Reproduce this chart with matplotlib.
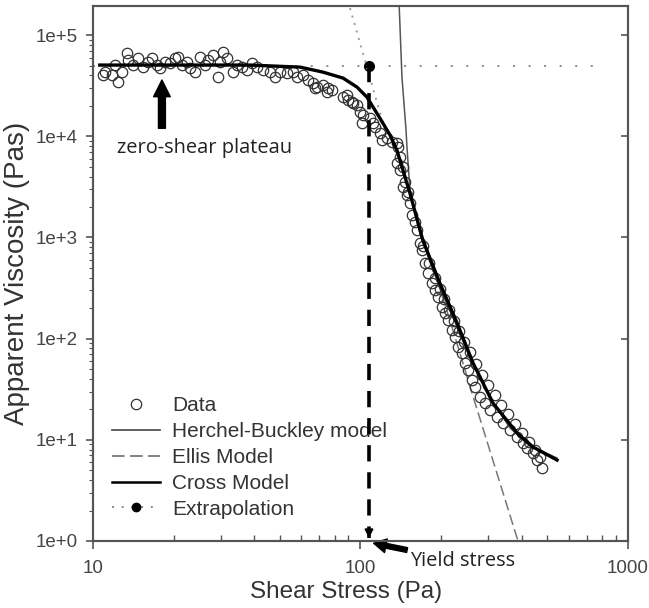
import matplotlib
matplotlib.use("Agg")
import matplotlib.pyplot as plt
from matplotlib.lines import Line2D

# measured data (shear stress in Pa, apparent viscosity in Pa.s)
data_stress = [
    10.9, 11.1, 11.8, 12.1, 12.4, 12.8, 13.4, 13.5, 14.1, 14.7, 15.4, 16.1, 16.6,
    17.3, 17.8, 18.6, 19.4, 20.3, 20.8, 21.5, 22.5, 23.0, 24.1, 25.1, 26.2, 26.9,
    28.1, 29.3, 29.8, 30.6, 31.7, 33.4, 34.5, 36.1, 37.6, 39.3, 41.0, 43.2, 45.9,
    47.9, 50.0, 53.1, 55.9, 57.9, 61.0, 63.6, 66.4, 68.8, 72.4, 75.6,
    67.6, 74.9, 78.2, 86.0, 89.0, 89.8, 92.9, 93.8, 97.0, 99.6, 102.2, 101.3,
    108.5, 111.4, 113.3, 118.3, 120.3, 125.6, 131.2, 136.9, 138.1, 140.5, 136.9,
    144.2, 140.5, 146.7, 144.2, 149.2, 150.5, 153.1, 155.8, 159.8, 162.6, 166.9,
    169.8, 174.2, 178.8, 185.0, 189.9, 194.9, 201.7, 207.0, 212.4, 219.8, 225.6,
    231.5, 239.6, 245.9, 252.3, 261.1, 267.9, 279.7, 292.1, 304.9, 323.8, 341.0,
    362.2, 384.6, 405.1, 419.3, 441.6, 456.9, 477.0,
    172, 180, 190, 198, 206, 215, 224, 234, 244, 256, 270, 284, 300, 318, 336,
    356, 378, 400, 425, 450, 470,
]
data_visc = [
    4.03e4, 4.31e4, 4.03e4, 5.06e4, 3.43e4, 4.31e4, 6.64e4, 5.66e4, 5.06e4, 5.93e4,
    4.83e4, 5.41e4, 5.93e4, 5.06e4, 4.72e4, 5.41e4, 5.29e4, 5.93e4, 6.06e4, 5.06e4,
    5.41e4, 4.72e4, 4.31e4, 6.06e4, 5.06e4, 5.66e4, 6.34e4, 3.85e4, 5.41e4, 6.79e4,
    5.93e4, 4.31e4, 5.06e4, 4.83e4, 4.51e4, 5.29e4, 4.83e4, 4.51e4, 4.31e4, 3.85e4,
    4.31e4, 4.21e4, 4.31e4, 3.85e4, 4.03e4, 3.59e4, 3.36e4, 3.06e4, 3.21e4, 2.99e4,
    2.99e4, 2.73e4, 2.86e4, 2.44e4, 2.55e4, 2.28e4, 2.18e4, 2.13e4, 2.03e4, 1.73e4,
    1.62e4, 1.35e4, 1.51e4, 1.35e4, 1.23e4, 1.08e4, 9.17e3, 9.60e3, 8.76e3, 8.56e3,
    7.82e3, 6.23e3, 5.43e3, 4.96e3, 4.63e3, 3.53e3, 3.15e3, 2.62e3, 2.81e3, 2.19e3,
    1.66e3, 1.42e3, 1.18e3, 881, 750, 558, 444, 354, 302, 258, 205, 179, 153, 122,
    104, 82.6, 72.1, 57.4, 49.0, 39.0, 33.3, 26.5, 23.1, 19.7, 16.8, 14.7, 12.5,
    10.7, 9.29, 8.30, 7.41, 6.31, 5.26,
    830, 560, 400, 310, 245, 190, 150, 118, 93, 73, 56, 44, 35, 28, 22,
    18, 14.5, 11.8, 9.6, 8.0, 6.8,
]

# Cross model
cross_stress = [10.6, 38.6, 59.4, 72.4, 86.1, 97.1, 105.7, 118.2, 128.9, 136.8,
                153, 171, 198, 229.6, 263.6, 312.8, 384.6, 441.6, 543]
cross_visc = [5.06e4, 5.06e4, 4.83e4, 4.31e4, 3.76e4, 3.06e4, 2.44e4, 1.51e4,
              1.03e4, 7.3e3, 2.75e3, 942, 354, 143, 57.4, 23.1, 11.7, 8.49, 6.31]

# Herschel-Bulkley model
hb_stress = [139.3, 142.9, 148.0, 149.2, 153.1, 158.5, 166.9, 181.9, 198.2,
             225.6, 256.6, 304.9, 362.2, 430, 543]
hb_visc = [2.2e5, 3.85e4, 1.15e4, 7.82e3, 2.94e3, 1.87e3, 1.10e3, 571, 316,
           146, 64.3, 25.9, 13.1, 8.69, 6.61]

# Ellis model
ellis_stress = [10.6, 38.6, 59.4, 72.4, 86.1, 97.1, 105.7, 118.2, 128.9, 136.8,
                153, 171, 198, 225.6, 261.1, 388]
ellis_visc = [5.06e4, 5.06e4, 4.83e4, 4.31e4, 3.76e4, 3.06e4, 2.44e4, 1.51e4,
              1.03e4, 7.3e3, 2.75e3, 942, 316, 104, 29.0, 1.0]

# extrapolation (plateau and power-law branch)
plateau_stress = [10, 107.6, 740]
plateau_visc = [4.94e4, 4.94e4, 4.94e4]
branch_stress = [91.4, 123.5]
branch_visc = [1.85e5, 1.15e4]
yield_stress = 107.6
yield_visc = 4.94e4

xticks = [10, 100, 1000]
xtick_labels = ["10", "100", "1000"]
yticks = [1, 10, 100, 1e3, 1e4, 1e5]
ytick_labels = ["1e+0", "1e+1", "1e+2", "1e+3", "1e+4", "1e+5"]

plt.rcParams["font.family"] = ["Liberation Sans", "DejaVu Sans"]

fig = plt.figure(figsize=(6.49, 6.08), dpi=100)
ax = fig.add_axes([0.1433, 0.1102, 0.8243, 0.8799])
ax.set_xscale("log")
ax.set_yscale("log")

ax.plot(plateau_stress, plateau_visc, ls=(0, (1, 7)), color="#8a8a8a", lw=1.4,
        marker="o", markevery=[1], mfc="black", mec="black", ms=7, zorder=2)
ax.plot(branch_stress, branch_visc, ls=(0, (1, 3)), color="#9a9a9a", lw=1.4, zorder=2)

ax.plot(ellis_stress, ellis_visc, ls=(0, (7, 3)), color="#777777", lw=1.1, zorder=3)
ax.plot(hb_stress, hb_visc, color="#555555", lw=1.1, zorder=3)
ax.plot(data_stress, data_visc, ls="none", marker="o", ms=7.5, mfc="none",
        mec="#333333", mew=0.9, zorder=4)
ax.plot(cross_stress, cross_visc, color="black", lw=2.4, zorder=5)

# yield stress marker
ax.plot([yield_stress, yield_stress], [yield_visc, 1.08], color="black", lw=2.6,
        ls=(0, (4.5, 3)), zorder=6)
ax.annotate("", xy=(yield_stress, 1.0), xytext=(yield_stress, 1.2),
            arrowprops=dict(arrowstyle="-|>", color="black", lw=1.2, mutation_scale=13))

ax.annotate("", xy=(18.1, 3.6e4), xytext=(18.1, 1.2e4),
            arrowprops=dict(width=5, headwidth=12, headlength=12, color="black"))
ax.text(12.3, 7.6e3, "zero-shear plateau", fontsize=14.4, color="#222222",
        family="Open Sans", va="center", ha="left")
ax.annotate("Yield stress", xy=(112, 0.95), xytext=(153, 0.64),
            fontsize=14.4, color="#222222", family="Open Sans", va="center", ha="left",
            annotation_clip=False,
            arrowprops=dict(width=3.5, headwidth=10, headlength=9, color="black",
                            shrink=0.0))

ax.set_xlim(10, 1000)
ax.set_ylim(1, 1.94e5)
ax.set_xticks(xticks)
ax.set_xticklabels(xtick_labels)
ax.set_yticks(yticks)
ax.set_yticklabels(ytick_labels)

ax.tick_params(axis="x", which="major", direction="out", length=6, width=1.2,
               labelsize=13.5, labelcolor="#444444", pad=8, color="#555555")
ax.tick_params(axis="x", which="minor", direction="in", length=4, width=1.0,
               color="#555555")
ax.tick_params(axis="y", which="major", direction="out", length=5, width=1.2,
               labelsize=13.5, labelcolor="#444444", pad=6, color="#555555")
ax.tick_params(axis="y", which="minor", direction="out", length=3, width=0.8,
               color="#555555")

axr = ax.twinx()
axr.set_yscale("log")
axr.set_ylim(ax.get_ylim())
axr.set_yticks(yticks)
axr.tick_params(axis="y", which="major", direction="in", length=5, width=1.2,
                labelright=False, color="#555555")
axr.tick_params(axis="y", which="minor", right=False)

for a in (ax, axr):
    for s in a.spines.values():
        s.set_color("#555555")
        s.set_linewidth(1.5)

ax.set_xlabel("Shear Stress (Pa)", fontsize=17.5, color="#333333")
ax.set_ylabel("Apparent Viscosity (Pas)", fontsize=20, color="#333333")
ax.xaxis.set_label_coords(0.473, -0.075)
ax.yaxis.set_label_coords(-0.117, 0.5)

handles = [
    Line2D([], [], ls="none", marker="o", ms=7.5, mfc="none", mec="#333333", mew=0.9),
    Line2D([], [], color="#555555", lw=1.3),
    Line2D([], [], color="#777777", lw=1.3, ls=(0, (7, 3))),
    Line2D([], [], color="black", lw=1.8),
    Line2D([], [], color="#8a8a8a", lw=1.4, ls=(0, (1, 4)), marker="o", mfc="black",
           mec="black", ms=6),
]
labels = ["Data", "Herchel-Buckley model", "Ellis Model", "Cross Model", "Extrapolation"]
leg = ax.legend(handles, labels, loc="upper left", bbox_to_anchor=(0.0355, 0.2705),
                frameon=False, fontsize=15, numpoints=1, handlelength=2.3,
                handletextpad=0.57, labelspacing=0.33, borderpad=0, borderaxespad=0)
for t in leg.get_texts():
    t.set_color("#333333")

fig.savefig("out.png", dpi=100)
